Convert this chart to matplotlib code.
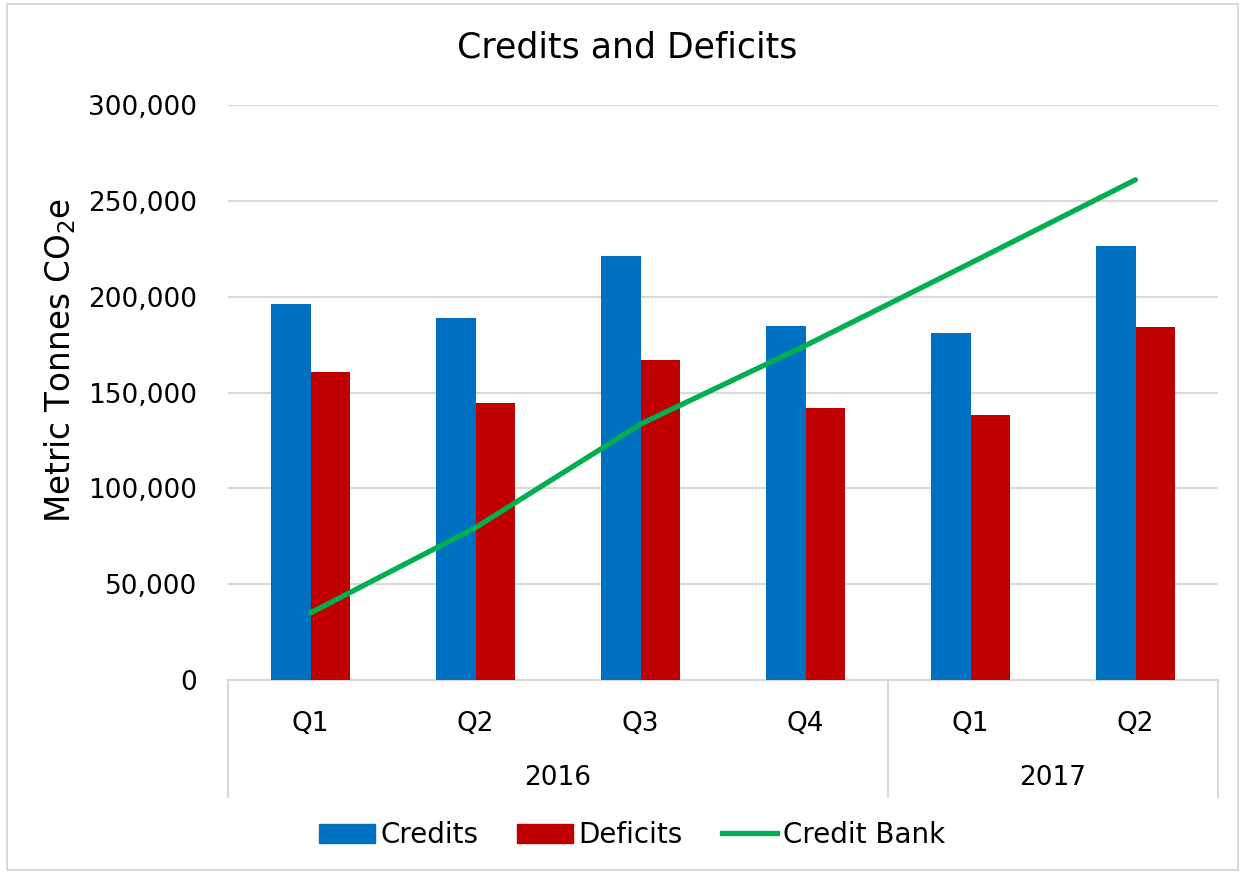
import matplotlib
matplotlib.use("Agg")
import matplotlib.pyplot as plt
import numpy as np
from matplotlib.lines import Line2D
from matplotlib.patches import Rectangle, Patch
from matplotlib.ticker import FuncFormatter

quarters = ["Q1", "Q2", "Q3", "Q4", "Q1", "Q2"]
years = ["2016", "2017"]
year_counts = [4, 2]
credits = [196100, 188700, 221100, 184700, 181300, 226600]
deficits = [160900, 144300, 167100, 142100, 138100, 184300]
credit_bank = [35000, 79500, 133500, 174500, 217500, 261000]

C_CRED = "#0070C0"
C_DEF = "#C00000"
C_BANK = "#00B050"
C_GRID = "#D9D9D9"

plt.rcParams['font.family'] = ['DejaVu Sans']

fig = plt.figure(figsize=(12.44, 8.75), dpi=100)
ax = fig.add_axes([228/1244, 1-680/875, (1218-228)/1244, (680-105)/875])

x = np.arange(len(quarters))
w = 0.24
ax.bar(x - w/2, credits, w, color=C_CRED, zorder=3, label="Credits")
ax.bar(x + w/2, deficits, w, color=C_DEF, zorder=3, label="Deficits")
ax.plot(x, credit_bank, color=C_BANK, lw=3.8, solid_capstyle='round', zorder=4, label="Credit Bank")

ax.set_xlim(-0.5, len(quarters) - 0.5)
ax.set_ylim(0, 300000)
ax.set_yticks(np.arange(0, 300001, 50000))
ax.yaxis.set_major_formatter(FuncFormatter(lambda v, p: f"{int(v):,}"))
ax.grid(axis='y', color=C_GRID, lw=1.5, zorder=0)
ax.set_axisbelow(True)
for s in ["top", "right", "left"]:
    ax.spines[s].set_visible(False)
ax.spines["bottom"].set_color(C_GRID)
ax.spines["bottom"].set_linewidth(1.5)
ax.tick_params(axis='y', length=0, pad=22, labelsize=19)
ax.set_xticks(x)
ax.set_xticklabels(quarters)
ax.tick_params(axis='x', length=0, pad=22, labelsize=19)

# group separators
bounds = [-0.5]
for c in year_counts:
    bounds.append(bounds[-1] + c)
trans = ax.get_xaxis_transform()
for b in bounds:
    ax.add_line(Line2D([b, b], [0, -0.2035], transform=trans, color=C_GRID, lw=1.5, clip_on=False))
for i, yr in enumerate(years):
    mid = (bounds[i] + bounds[i+1]) / 2
    ax.text(mid, -0.17, yr, transform=trans, ha='center', va='center', fontsize=19)

ax.set_ylabel("Metric Tonnes CO$_2$e", fontsize=23.5)
ax.yaxis.set_label_coords(-0.152, 0.556)

fig.text(627/1244, 1-47/875, "Credits and Deficits", ha='center', va='center', fontsize=25)

handles = [Patch(color=C_CRED), Patch(color=C_DEF), Line2D([], [], color=C_BANK, lw=3.8)]
fig.legend(handles, ["Credits", "Deficits", "Credit Bank"], loc='center', bbox_to_anchor=(632/1244, 1-835/875),
           ncol=3, frameon=False, fontsize=20, handlelength=2.0, handletextpad=0.2, columnspacing=1.4)

fig.add_artist(Rectangle((7/1244, 5/875), 1231/1244, 866/875, transform=fig.transFigure,
                         fill=False, edgecolor=C_GRID, lw=1.5))

fig.savefig("out.png", dpi=100)
